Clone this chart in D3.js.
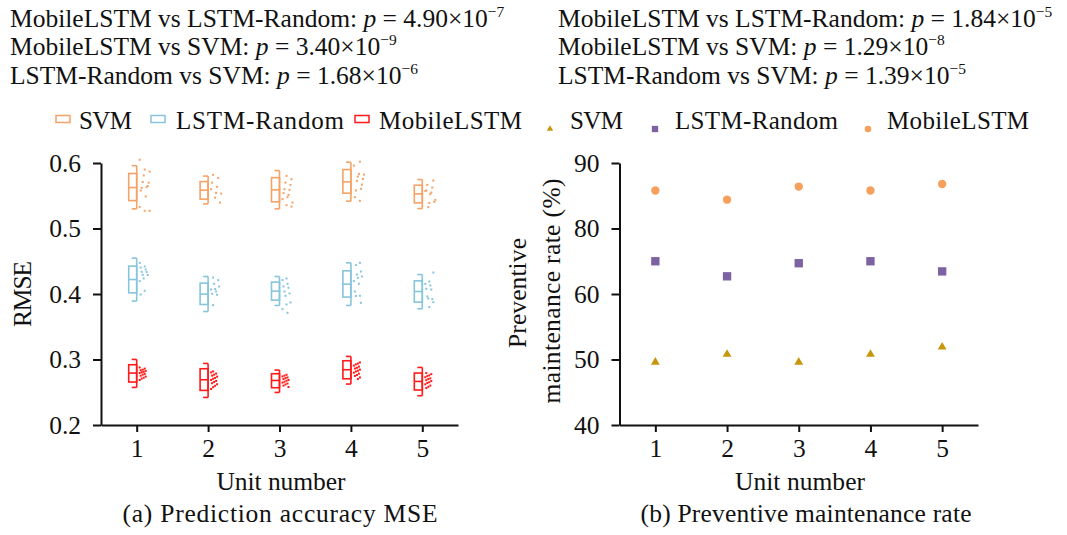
<!DOCTYPE html>
<html>
<head>
<meta charset="utf-8">
<script src="https://cdn.jsdelivr.net/npm/d3@7"></script>
<style>
  body { margin: 0; background: #fff; }
  text { font-family: "Liberation Serif", "Times New Roman", serif; fill: #111; }
</style>
</head>
<body>
<script>
// units on the x axis
var units = [1, 2, 3, 4, 5];

// RMSE box stats per unit: [low whisker, q1, median, q3, high whisker]
var svmBox = [[0.530, 0.5426, 0.5625, 0.584, 0.596], [0.5376, 0.5448, 0.5585, 0.5716, 0.580], [0.530, 0.5407, 0.559, 0.5777, 0.5884], [0.5417, 0.5539, 0.5712, 0.590, 0.6012], [0.5304, 0.5391, 0.5529, 0.5661, 0.5747]];
var lstmBox = [[0.3892, 0.4018, 0.4221, 0.4426, 0.4548], [0.3733, 0.384, 0.3998, 0.4166, 0.4267], [0.3825, 0.3907, 0.4044, 0.4182, 0.4267], [0.3825, 0.3953, 0.4151, 0.4354, 0.4476], [0.3774, 0.3876, 0.4038, 0.4201, 0.4297]];
var mobileBox = [[0.2574, 0.2656, 0.2793, 0.292, 0.3001], [0.2421, 0.2528, 0.2691, 0.2859, 0.294], [0.2497, 0.2569, 0.268, 0.2783, 0.2839], [0.2625, 0.2706, 0.2844, 0.2981, 0.3047], [0.2447, 0.2534, 0.2665, 0.2793, 0.2879]];

// RMSE raw points per unit
var svmPts = [
  [0.605, 0.590, 0.587, 0.581, 0.570, 0.571, 0.565, 0.562, 0.563, 0.558, 0.549, 0.533, 0.527, 0.527],
  [0.582, 0.577, 0.570, 0.5636, 0.560, 0.5544, 0.5533, 0.547, 0.5396],
  [0.5803, 0.5753, 0.570, 0.5666, 0.560, 0.559, 0.554, 0.5513, 0.5448, 0.5478, 0.5396, 0.5356, 0.5335],
  [0.602, 0.596, 0.5834, 0.5823, 0.5793, 0.5757, 0.5727, 0.567, 0.558, 0.5605, 0.5478, 0.5422],
  [0.5732, 0.5666, 0.5625, 0.558, 0.5548, 0.5574, 0.5524, 0.5437, 0.5391, 0.5406, 0.5326]
];
var lstmPts = [
  [0.4476, 0.442, 0.4404, 0.4374, 0.4339, 0.4335, 0.4293, 0.429, 0.4237, 0.4197, 0.4049, 0.3992],
  [0.4252, 0.4212, 0.4156, 0.4115, 0.4075, 0.4069, 0.4038, 0.4003, 0.3988, 0.3831],
  [0.4237, 0.4212, 0.4156, 0.4115, 0.4095, 0.4038, 0.4008, 0.3973, 0.3871, 0.384, 0.377, 0.3713],
  [0.4476, 0.4441, 0.4343, 0.4297, 0.4267, 0.4247, 0.4197, 0.4156, 0.4038, 0.3973, 0.397, 0.3866],
  [0.4328, 0.4191, 0.4156, 0.413, 0.408, 0.4069, 0.3962, 0.3922, 0.3931, 0.3876, 0.38]
];
var mobilePts = [
  [0.2879, 0.2861, 0.2844, 0.2836, 0.2826, 0.2813, 0.2806, 0.2793, 0.2781, 0.2769, 0.2752, 0.2739, 0.2722, 0.2708, 0.2687],
  [0.2818, 0.2803, 0.2785, 0.2768, 0.2754, 0.2738, 0.2719, 0.2706, 0.2688, 0.2673, 0.2657, 0.2638, 0.2622, 0.2598, 0.2577, 0.2549],
  [0.2767, 0.2754, 0.2741, 0.2726, 0.2716, 0.2702, 0.2687, 0.2676, 0.2661, 0.2648, 0.2633, 0.2619, 0.2601, 0.258],
  [0.2955, 0.2938, 0.2926, 0.2907, 0.2891, 0.2873, 0.2862, 0.2846, 0.2828, 0.2817, 0.2799, 0.2784, 0.2763, 0.2749, 0.2726, 0.2702],
  [0.2793, 0.2777, 0.2758, 0.2746, 0.2729, 0.2711, 0.2701, 0.2684, 0.2671, 0.2653, 0.2641, 0.2621, 0.2602, 0.2583, 0.2564]
];

// preventive maintenance rate (%)
var svmRate = [49.6, 50.8, 49.6, 50.8, 51.9];
var lstmRate = [70.0, 65.4, 69.4, 70.0, 66.9];
var mobileRate = [85.8, 84.4, 86.4, 85.8, 86.8];

var rmseTicks = [0.2, 0.3, 0.4, 0.5, 0.6];
var rateTicks = [40, 50, 60, 80, 90];

var pLeft = [["MobileLSTM vs LSTM-Random: ", "4.90", "7"], ["MobileLSTM vs SVM: ", "3.40", "9"], ["LSTM-Random vs SVM: ", "1.68", "6"]];
var pRight = [["MobileLSTM vs LSTM-Random: ", "1.84", "5"], ["MobileLSTM vs SVM: ", "1.29", "8"], ["LSTM-Random vs SVM: ", "1.39", "5"]];

var cOrange = "#f5a266", cBlue = "#86c5dc", cRed = "#ff1a1a";
var cTri = "#c8960c", cSq = "#7d62a2", cCirc = "#f5a05c";

var svg = d3.select("body").append("svg").attr("width", 1067).attr("height", 535);

// p-value text blocks
function pBlock(lines, x0) {
  lines.forEach(function (l, i) {
    var t = svg.append("text").attr("x", x0).attr("y", 27 + i * 28.3).style("font-size", "25.5px");
    t.append("tspan").text(l[0]);
    t.append("tspan").style("font-style", "italic").text("p");
    t.append("tspan").text(" = " + l[1] + "\u00d710");
    t.append("tspan").attr("dy", -10).style("font-size", "15.5px").text("\u2212" + l[2]);
  });
}
pBlock(pLeft, 10);
pBlock(pRight, 558);

// scales
var xA = d3.scaleLinear().domain([0.5, 5.5]).range([101, 458]);
var yA = d3.scaleLinear().domain([0.2, 0.6]).range([425, 163]);
var xB = d3.scaleLinear().domain([0.5, 5.5]).range([619.5, 978]);
var yB = d3.scaleLinear().domain([40, 50, 60, 80, 90]).range([425, 359.5, 294, 228.5, 163]);

function styleAxis(g) {
  g.select(".domain").attr("stroke", "#111").attr("stroke-width", 2);
  g.selectAll(".tick line").attr("stroke", "#111").attr("stroke-width", 2);
  g.selectAll("text").style("font-size", "25.5px").attr("font-family", null).attr("fill", "#111");
}

function drawAxes(x, y, left, yTicks, fmt) {
  var gx = svg.append("g").attr("transform", "translate(0,425)")
    .call(d3.axisBottom(x).tickValues(units).tickSize(7).tickSizeOuter(0).tickFormat(d3.format("d")));
  styleAxis(gx);
  gx.selectAll("text").attr("y", 32).attr("dy", 0);
  var gy = svg.append("g").attr("transform", "translate(" + left + ",0)")
    .call(d3.axisLeft(y).tickValues(yTicks).tickSize(8).tickSizeOuter(0).tickPadding(12).tickFormat(fmt));
  styleAxis(gy);
}
drawAxes(xA, yA, 101, rmseTicks, d3.format(".1f"));
drawAxes(xB, yB, 619.5, rateTicks, d3.format("d"));

// titles, widths matched to the reference with textLength
function label(txt, x, y, len, rot) {
  var t = svg.append("text").attr("text-anchor", "middle").style("font-size", "25.5px")
    .attr("textLength", len).attr("lengthAdjust", "spacing").text(txt);
  if (rot) t.attr("transform", "translate(" + x + "," + y + ") rotate(-90)");
  else t.attr("x", x).attr("y", y);
}
label("RMSE", 31, 294, 66, true);
label("Preventive", 525.5, 293, 110, true);
label("maintenance rate (%)", 560, 291, 225, true);
label("Unit number", 281, 490, 129);
label("Unit number", 800, 490, 130);
label("(a) Prediction accuracy MSE", 280, 522, 315);
label("(b) Preventive maintenance rate", 806, 522, 331);

// box plots: box sits left of the whisker line, points to the right
function drawBoxes(boxes, pts, color, spread) {
  var g = svg.append("g").attr("fill", "none").attr("stroke", color).attr("stroke-width", 1.6);
  boxes.forEach(function (b, i) {
    var cx = xA(units[i]);
    g.append("rect").attr("x", cx - 8).attr("y", yA(b[3])).attr("width", 8).attr("height", yA(b[1]) - yA(b[3]));
    g.append("line").attr("x1", cx - 8).attr("x2", cx).attr("y1", yA(b[2])).attr("y2", yA(b[2]));
    g.append("line").attr("x1", cx).attr("x2", cx).attr("y1", yA(b[4])).attr("y2", yA(b[0]));
    g.append("line").attr("x1", cx - 5).attr("x2", cx).attr("y1", yA(b[4])).attr("y2", yA(b[4]));
    g.append("line").attr("x1", cx - 5).attr("x2", cx).attr("y1", yA(b[0])).attr("y2", yA(b[0]));
    svg.append("g").selectAll("rect").data(pts[i]).enter().append("rect")
      .attr("x", function (d, j) { return cx + 2 + ((j * 5 + i * 2) % spread); })
      .attr("y", function (d) { return yA(d) - 1; })
      .attr("width", 2).attr("height", 2)
      .attr("fill", color);
  });
}
drawBoxes(svmBox, svmPts, cOrange, 11);
drawBoxes(lstmBox, lstmPts, cBlue, 9);
drawBoxes(mobileBox, mobilePts, cRed, 7);

// right panel markers
function drawMarks(vals, type, size, color) {
  svg.append("g").selectAll("path").data(vals).enter().append("path")
    .attr("transform", function (d, i) { return "translate(" + xB(units[i]) + "," + yB(d) + ")"; })
    .attr("d", d3.symbol().type(type).size(size))
    .attr("fill", color);
}
drawMarks(svmRate, d3.symbolTriangle, 34, cTri);
drawMarks(lstmRate, d3.symbolSquare, 70, cSq);
drawMarks(mobileRate, d3.symbolCircle, 55, cCirc);

// legends
var legA = [["SVM", cOrange, 56, 79, 53], ["LSTM-Random", cBlue, 151, 176, 168], ["MobileLSTM", cRed, 355, 379, 143]];
legA.forEach(function (l) {
  svg.append("rect").attr("x", l[2]).attr("y", 115.5).attr("width", 14).attr("height", 7)
    .attr("fill", "none").attr("stroke", l[1]).attr("stroke-width", 1.5);
  svg.append("text").attr("x", l[3]).attr("y", 129).style("font-size", "25px")
    .attr("textLength", l[4]).attr("lengthAdjust", "spacing").text(l[0]);
});
var legB = [["SVM", d3.symbolTriangle, 18, cTri, 550, 570, 53], ["LSTM-Random", d3.symbolSquare, 40, cSq, 655, 675, 163], ["MobileLSTM", d3.symbolCircle, 34, cCirc, 868, 887, 142]];
legB.forEach(function (l) {
  svg.append("path").attr("transform", "translate(" + l[4] + ",129)")
    .attr("d", d3.symbol().type(l[1]).size(l[2])).attr("fill", l[3]);
  svg.append("text").attr("x", l[5]).attr("y", 129).style("font-size", "25px")
    .attr("textLength", l[6]).attr("lengthAdjust", "spacing").text(l[0]);
});
</script>
</body>
</html>
